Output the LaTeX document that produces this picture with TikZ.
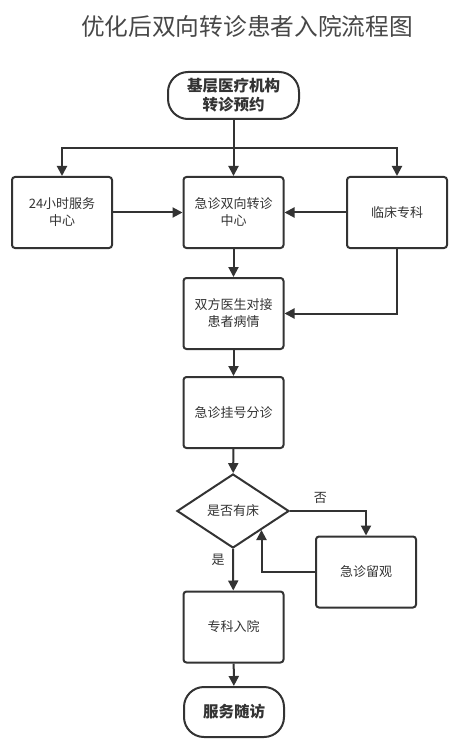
\documentclass[tikz,border=0pt]{standalone}
\usepackage{fontspec}
\setmainfont{Noto Sans CJK SC}
\usetikzlibrary{arrows.meta,shapes.geometric}
\definecolor{ink}{HTML}{333333}

\begin{document}
\begin{tikzpicture}[x=1pt,y=-1pt,
  box/.style={draw=ink,line width=2pt,rounded corners=3pt,minimum width=100pt,
    minimum height=71pt,inner sep=2pt,align=center,font=\fontsize{13}{17}\selectfont,text=ink},
  term/.style={draw=ink,line width=2pt,rounded corners=20pt,inner sep=2pt,align=center,
    font=\fontsize{15.5}{19}\selectfont\bfseries,text=ink},
  ask/.style={draw=ink,line width=2pt,diamond,aspect=1.5,minimum width=112pt,
    minimum height=74pt,inner sep=0pt,font=\fontsize{13}{17}\selectfont,text=ink},
  arr/.style={draw=ink,line width=2pt,-{Triangle[length=10pt,width=10pt]}},
  lab/.style={font=\fontsize{13}{17}\selectfont,text=ink}]
\useasboundingbox (0,0) rectangle (469,743);
\node[font=\fontsize{23.7}{28}\selectfont,text=ink!90] (title) at (247,26) {优化后双向转诊患者入院流程图};
% nodes
\node[term,minimum width=131pt,minimum height=47pt] (clinicA) at (233.5,95.5) {基层医疗机构\\转诊预约};
\node[box] (hub) at (62,212.5) {24小时服务\\中心};
\node[box] (emerg) at (233.5,212.5) {急诊双向转诊\\中心};
\node[box] (ward) at (397,212.5) {临床专科};
\node[box] (consult) at (233.5,313.5) {双方医生对接\\患者病情};
\node[box] (regist) at (233.5,412.5) {急诊挂号分诊};
\node[ask] (bed) at (233,511) {是否有床};
\node[box] (observe) at (366,572) {急诊留观};
\node[box] (admit) at (233.5,627) {专科入院};
\node[term,minimum width=100pt,minimum height=50pt] (follow) at (234,712) {服务随访};
\coordinate (split) at (233.5,148);
% connectors
\draw[draw=ink,line width=2pt] (clinicA) -- (split);
\draw[arr] (split) -- (emerg);
\draw[arr] (split) -| (hub);
\draw[arr] (split) -| (ward);
\draw[arr] (hub) -- (emerg);
\draw[arr] (ward) -- (emerg);
\draw[arr] (emerg) -- (consult);
\draw[arr] (ward) |- (consult);
\draw[arr] (consult) -- (regist);
\draw[arr] (regist) -- (bed);
\draw[arr] (bed.east) -| node[lab,pos=0.2,above=3pt]{否} (observe.north);
\draw[arr] (observe.west) -| (bed.south east);
\draw[arr] (bed.south) -- node[lab,pos=0.25,left=4pt]{是} (admit);
\draw[arr] (admit) -- (follow);
\end{tikzpicture}
\end{document}
